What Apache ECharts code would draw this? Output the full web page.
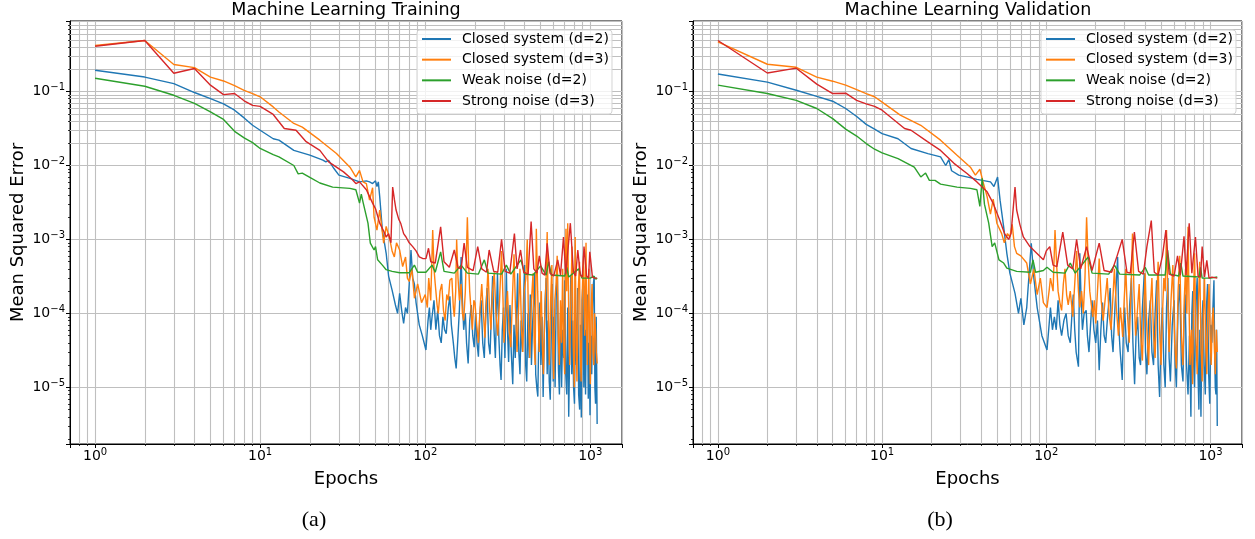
<!DOCTYPE html>
<html>
<head>
<meta charset="utf-8">
<script src="https://cdn.jsdelivr.net/npm/echarts@6/dist/echarts.min.js"></script>
<style>
	html, body { margin: 0; padding: 0; background: #fff; }
	#chart { width: 1255px; height: 539px; }
</style>
</head>
<body>
<div id="chart"></div>
<script>

// Series names and colours (matplotlib tab10)
var seriesNames = ['Closed system (d=2)', 'Closed system (d=3)', 'Weak noise (d=2)', 'Strong noise (d=3)'];
var seriesColors = ['#1f77b4', '#ff7f0e', '#2ca02c', '#d62728'];

var panelTitles = ['Machine Learning Training', 'Machine Learning Validation'];
var panelCaptions = ['(a)', '(b)'];
var xAxisName = 'Epochs';
var yAxisName = 'Mean Squared Error';

// Axis extents, [epoch] and [MSE]
var xRange = [0.705, 1556];
var yRange = [1.714e-6, 0.8995];

// ---- Training panel, [epoch, mse] ----
var trainClosed2 = [[1,0.194],[2,0.157],[3,0.128],[4,0.097],[5,0.080],[6,0.068],[7,0.056],[8,0.044],[9,0.035],[10,0.030],[12,0.023],[13,0.022],[16,0.016],[20,0.0138],[24,0.0118],[25,0.0112],[26,0.0117],[28,0.0091],[30,0.0074],[35,0.0067],[40,0.0060],[44,0.0062],[46,0.0060],[48,0.0057],[49,0.0054],[50,0.0062],[51,0.0052],[52,0.0060],[53,0.0038],[55,0.00134],[58,0.00065],[60,0.00032],[63,0.000206],[66,0.00013],[68,0.0001],[70,0.000187],[72,0.00011],[74,0.000073],[76,0.00012],[78,0.0001],[80,0.00025],[82,0.00072],[84,0.0003],[86,0.00025],[88,0.00014],[92,0.00007],[96,0.00005],
	[101,3.2e-5],[104,8e-5],[106,1.2e-4],[108,6e-5],[110,9e-5],[113,1.5e-4],[116,6e-5],[119,1.1e-4],[122,5e-5],[125,4e-5],[128,9e-5],[131,6e-5],[134,5.3e-5],[138,1.2e-4],[141,1.7e-4],[144,7e-5],[148,4e-5],[151,2.5e-5],[154,1.8e-5],[158,5e-5],[161,1.1e-4],[165,5.8e-4],[168,1.5e-4],[171,6e-5],[175,1e-4],[178,4e-5],[182,2.1e-5],[186,8e-5],[190,1.3e-4],[194,5e-5],[198,3.5e-5],[202,1e-4],[206,4e-5],[210,2.6e-5],[214,9e-5],[218,1.5e-4],[223,4e-5],[228,2.5e-5],[233,1.2e-4],[237,2.2e-4],[242,4e-5],[247,2.8e-5],[252,1.1e-4],[256,3.2e-4],[261,6e-5],[266,2.5e-5],[270,1e-4],[274,3.5e-4],[279,5e-5],[284,2e-5],[288,1.26e-5],[293,6e-5],[298,1.2e-4],[304,2.5e-5],[310,4e-4],[315,6e-5],[320,2.2e-5],[326,1.3e-4],[332,3e-5],[339,1.1e-5],[345,7e-5],[351,2.5e-5],[357,9e-5],[363,3.5e-4],[369,3e-5],[375,1.5e-5],[381,8e-5],[388,3e-5],[394,1.5e-4],[400,4.5e-4],[406,2e-5],[412,1.2e-5],[419,1e-4],[426,2.5e-5],[433,1.8e-4],[440,2e-5],[447,7e-5],[454,1.5e-4],[460,3.5e-4],[467,1.5e-5],[474,1e-5],[481,7.5e-6],[488,6e-5],[495,1.4e-4],[502,2e-5],[510,9e-5],[518,7.4e-6],[526,5e-5],[533,1.5e-4],[540,3e-4],[548,1.5e-5],[556,8e-5],[564,1.2e-5],[572,6.8e-6],[580,5e-5],[588,2.5e-4],[596,1.2e-5],[604,9e-5],[612,1e-5],[622,2e-4],[632,3.5e-4],[641,1.8e-5],[650,8e-6],[660,1e-4],[670,1e-5],[680,6e-5],[690,2.5e-5],[700,2.8e-4],[710,1.5e-5],[720,8e-6],[730,1.2e-4],[740,4e-6],[750,3e-5],[762,3.3e-4],[772,1.5e-5],[782,8e-5],[792,1e-5],[802,6e-6],[812,1e-4],[824,2e-5],[838,2.2e-4],[850,8e-6],[862,5e-6],[872,7e-5],[882,3.9e-6],[892,1.5e-4],[902,2.5e-4],[914,1e-5],[925,6e-5],[936,8e-6],[948,1.3e-4],[960,1.8e-4],[972,7e-6],[984,4e-5],[996,4.2e-6],[1008,5e-5],[1020,1.5e-5],[1032,1e-4],[1044,2.5e-4],[1056,3.2e-4],[1066,1e-5],[1076,6e-6],[1086,9e-5],[1094,1.5e-5],[1100,3.2e-6]];

var trainClosed3 = [[1,0.42],[2,0.49],[3,0.232],[4,0.211],[5,0.157],[6,0.139],[7,0.12],[8,0.104],[9,0.094],[10,0.085],[12,0.062],[13,0.053],[16,0.037],[18,0.033],[23,0.022],[29,0.0145],[35,0.0095],[38,0.007],[40,0.0086],[42,0.006],[44,0.0057],[46,0.0034],[48,0.005],[49,0.002],[51,0.00134],[53,0.0025],[56,0.00089],[58,0.0015],[61,0.001],[63,0.0007],[65,0.00058],[67,0.0009],[70,0.00072],[73,0.00043],[76,0.00058],[78,0.0003],[80,0.00027],[83,0.0004],[86,0.00016],[90,0.00025],[95,0.00014],
	[100,1.8e-4],[103,1.2e-4],[105,3e-4],[108,1.5e-4],[111,1.34e-3],[113,4e-4],[115,2.5e-4],[118,1.3e-4],[120,1e-4],[123,2e-4],[126,2.5e-4],[129,1.1e-4],[132,8e-5],[135,1.8e-4],[138,1.5e-4],[141,2.8e-4],[145,3e-4],[148,1.2e-4],[150,9e-5],[153,2e-4],[155,1e-3],[158,3e-4],[161,1.5e-4],[165,2.5e-4],[168,1e-4],[171,8e-5],[175,2e-4],[180,2e-3],[183,5e-4],[186,2e-4],[190,1e-4],[193,6e-5],[197,1.5e-4],[200,1.4e-4],[205,7e-5],[210,4e-5],[215,1.2e-4],[220,2.5e-4],[225,1e-4],[230,4.7e-5],[235,1.5e-4],[240,4e-4],[245,1.2e-4],[250,6e-5],[256,2e-4],[262,3.6e-4],[268,1e-4],[275,5e-5],[282,1.5e-4],[290,7e-4],[296,1.5e-4],[300,4e-5],[307,1e-4],[315,2e-4],[322,6e-5],[330,3.5e-5],[337,1.5e-4],[345,6.3e-4],[352,1.2e-4],[360,3e-5],[367,1e-4],[375,4e-4],[383,6e-5],[390,3e-5],[398,2e-4],[407,3e-4],[415,1e-3],[422,8e-5],[430,2.5e-5],[440,1.5e-4],[450,3.5e-4],[457,4e-5],[463,2e-5],[471,1.4e-3],[480,2e-4],[490,3e-5],[498,1e-4],[505,2e-4],[512,4e-5],[520,1.5e-5],[530,1e-4],[540,3e-4],[548,1.26e-3],[556,1e-4],[565,2e-5],[575,1.5e-4],[585,4.5e-4],[593,3e-5],[600,1.3e-5],[610,1.5e-4],[620,2.5e-4],[630,6e-4],[640,5e-5],[650,2e-5],[660,1.5e-4],[670,4e-5],[680,4e-4],[690,3e-5],[700,1.5e-5],[706,3e-4],[712,1.4e-3],[720,2e-4],[730,1.66e-3],[740,1e-4],[750,2e-5],[762,1.5e-4],[775,8e-4],[787,4e-5],[800,1e-5],[810,1.08e-3],[820,6e-5],[830,1.2e-5],[845,2e-4],[860,5e-4],[870,3e-5],[880,1.2e-5],[895,2e-4],[910,6e-4],[925,5e-5],[942,9e-4],[950,6e-5],[960,2e-5],[970,1.5e-4],[980,4e-4],[990,4e-5],[1000,1.1e-5],[1012,1.2e-4],[1025,2.5e-4],[1038,3e-5],[1050,2e-5],[1062,1e-4],[1075,6e-5],[1087,3e-5],[1100,2.1e-5]];

var trainWeak2 = [[1,0.151],[2,0.118],[3,0.089],[4,0.069],[5,0.053],[6,0.042],[7,0.029],[8,0.0236],[9,0.0204],[10,0.017],[12,0.014],[13,0.0131],[16,0.010],[17,0.0077],[18,0.0079],[20,0.0069],[23,0.0058],[27.5,0.0051],[35,0.0049],[38,0.0047],[40,0.0031],[41,0.0041],[42,0.0032],[45,0.00166],[46.5,0.00089],[49,0.00072],[50,0.0008],[51.5,0.00053],[55,0.00045],[58,0.00039],[63,0.00037],[70,0.000355],[80,0.000355],[86,0.00045],[90,0.00036],[101,0.00036],[110,0.00045],[115,0.00036],[124,0.00068],[130,0.00037],[150,0.00035],[165,0.00045],[180,0.00035],[210,0.00034],[228,0.00053],[240,0.00035],[290,0.00034],[310,0.00045],[330,0.00034],[380,0.00053],[400,0.00034],[450,0.00033],[500,0.00044],[540,0.00033],[560,0.0005],[580,0.00033],[700,0.00032],[720,0.00042],[740,0.00031],[850,0.0004],[890,0.0003],[1000,0.0003],[1050,0.00032],[1080,0.00029],[1100,0.0003]];

var trainStrong3 = [[1,0.41],[2,0.49],[3,0.177],[4,0.205],[5,0.122],[6,0.091],[7,0.094],[8,0.075],[9,0.065],[10,0.063],[12,0.049],[14,0.0316],[16.5,0.030],[19,0.021],[23,0.016],[26,0.0112],[32,0.0082],[36,0.0065],[38,0.0057],[40,0.006],[44,0.0047],[48,0.0031],[50,0.0026],[53,0.00166],[56,0.0013],[58,0.00108],[60,0.0012],[62,0.0009],[63.5,0.0051],[65,0.0035],[66.6,0.0025],[69,0.0019],[71,0.00166],[74,0.0012],[76.5,0.00108],[80,0.0009],[84,0.0008],[88,0.0007],[92,0.00058],[97,0.00055],[101,0.00055],[104.7,0.00076],[108,0.0005],[115,0.00048],[124,0.00148],[130,0.0005],[140,0.00042],[150,0.00072],[158,0.00042],[165,0.0004],[172,0.00089],[180,0.00042],[195,0.00038],[208,0.0008],[220,0.0004],[235,0.00036],[244,0.00072],[260,0.00037],[275,0.00036],[290,0.001],[305,0.00037],[325,0.00035],[347,0.0012],[360,0.0004],[378,0.00072],[395,0.00036],[420,0.00034],[438,0.00174],[455,0.0004],[475,0.00035],[491,0.0006],[510,0.00035],[530,0.00033],[548,0.00089],[570,0.00035],[600,0.00032],[635,0.00053],[660,0.00033],[688,0.00108],[710,0.00034],[730,0.00032],[757,0.00166],[790,0.00036],[815,0.00032],[840,0.00072],[870,0.00033],[895,0.00031],[916,0.0008],[950,0.00032],[975,0.0003],[993,0.00068],[1030,0.00031],[1060,0.0003],[1100,0.0003]];

// ---- Validation panel, [epoch, mse] ----
var valClosed2 = [[1,0.173],[2,0.134],[3,0.104],[4,0.086],[5,0.074],[6,0.059],[7,0.046],[8,0.036],[9,0.031],[10,0.027],[12.5,0.023],[15,0.017],[19,0.0145],[22.7,0.0131],[24.4,0.010],[25.5,0.012],[26.5,0.0085],[29.3,0.0074],[33.8,0.0069],[37.8,0.0065],[45.7,0.006],[48,0.0052],[50.5,0.007],[52.3,0.0034],[55,0.00148],[57.5,0.00065],[60,0.00035],[64.5,0.000187],[67.7,0.0001],[70,0.00016],[73,0.00007],[76,0.00012],[81,0.00089],[84,0.0003],[88,0.00012],[94,0.00005],
	[101,3.2e-5],[104,7e-5],[106,1.2e-4],[109,6e-5],[112,9e-5],[115,6e-5],[118,1.5e-4],[121,7e-5],[124,5e-5],[128,8e-5],[132,1e-4],[136,5e-5],[140,4e-5],[143,9e-5],[146,1.8e-4],[149,6e-5],[152,3e-5],[157,1.9e-5],[160,6.5e-4],[163,1.5e-4],[166,6e-5],[170,1e-4],[175,1.1e-4],[178,5e-5],[182,3e-5],[186,7e-5],[190,1.5e-4],[195,6e-5],[200,4e-5],[205,8e-5],[210,1.7e-5],[215,6e-5],[220,1.4e-4],[225,5e-5],[230,4e-5],[237,1e-4],[245,2.2e-4],[250,5e-5],[255,3e-5],[262,1.2e-4],[272,5.8e-4],[277,6e-5],[282,3e-5],[286,2e-5],[290,1.26e-5],[295,6e-5],[300,1.2e-4],[307,4e-5],[315,3e-5],[322,1.3e-4],[330,3e-4],[337,4e-5],[345,1.1e-5],[352,5e-5],[360,9e-5],[368,2.5e-5],[375,2e-5],[385,1.2e-4],[395,3.5e-4],[402,3e-5],[410,1.5e-5],[420,8e-5],[430,1.5e-4],[440,3e-5],[450,2e-5],[460,1e-4],[470,2.8e-4],[480,2e-5],[490,7.4e-6],[500,5e-5],[510,1.2e-4],[520,2e-5],[530,1e-5],[540,1.2e-4],[550,3e-4],[560,2.5e-5],[570,1.2e-5],[585,7e-5],[600,1.5e-4],[610,2e-5],[620,1e-5],[635,1.2e-4],[650,2.5e-4],[665,2e-5],[680,1.2e-5],[690,8e-5],[700,1.8e-4],[715,2e-5],[730,8e-6],[745,5e-5],[760,4e-6],[770,1e-4],[780,2e-4],[790,2e-5],[800,1e-5],[815,1.5e-4],[830,3e-4],[840,1.5e-5],[850,5e-6],[862,6e-5],[875,4e-6],[888,8e-5],[900,1.5e-4],[915,2e-5],[930,8e-6],[945,1.2e-4],[960,2.5e-4],[975,1.5e-5],[990,6e-6],[1005,7e-5],[1020,4e-5],[1035,1.2e-4],[1050,2.8e-4],[1060,3e-5],[1070,1e-5],[1080,8e-6],[1090,6e-5],[1100,3e-6]];

var valClosed3 = [[1,0.47],[2,0.234],[3,0.213],[4,0.157],[5,0.138],[6,0.122],[7,0.106],[8,0.094],[9,0.085],[10,0.072],[12.9,0.048],[17.2,0.035],[22.7,0.022],[28.6,0.0138],[34.5,0.0095],[37,0.0074],[39.4,0.0089],[41.2,0.006],[43.6,0.0038],[45.7,0.0022],[47.5,0.0035],[50,0.00166],[53.5,0.0012],[55.5,0.0009],[58,0.0012],[60,0.00108],[62,0.0016],[64,0.0008],[66,0.00065],[70,0.0006],[76,0.00048],[80,0.00025],[84,0.0004],[88,0.00018],[92,0.0003],[96,0.00014],
	[101,1.2e-4],[104,2e-4],[106,3e-4],[110,2e-4],[113,1.34e-3],[116,4e-4],[118,2e-4],[121,1.4e-4],[124,1.1e-4],[127,2.5e-4],[130,4e-4],[133,1.8e-4],[136,1.3e-4],[140,2e-4],[145,9e-5],[149,2.5e-4],[153,7e-4],[157,2e-4],[160,1.2e-4],[164,2e-4],[168,1e-4],[172,3e-4],[176,2e-3],[180,5e-4],[184,2e-4],[188,1.3e-4],[192,9e-5],[196,1.5e-4],[200,7.3e-5],[205,2e-4],[210,5.5e-4],[216,1.5e-4],[222,8e-5],[228,1.5e-4],[235,3e-4],[241,1e-4],[248,6e-5],[254,1.5e-4],[260,4e-4],[267,1.2e-4],[275,5e-5],[283,1.2e-4],[292,4.8e-5],[298,1.5e-4],[305,4e-4],[312,1e-4],[320,4e-5],[328,2e-4],[335,1.2e-3],[342,2e-4],[350,5e-5],[358,1e-4],[368,2.5e-4],[376,5e-5],[385,2.3e-5],[392,1e-4],[400,3.5e-4],[410,6e-5],[420,2e-5],[430,1.2e-4],[440,3e-4],[450,5e-5],[460,2.5e-5],[470,1.5e-4],[480,5e-4],[490,6e-5],[500,2e-5],[510,1e-4],[520,3e-4],[530,2e-4],[540,1.34e-3],[550,1.5e-4],[560,3e-5],[575,1.5e-4],[590,4.5e-4],[605,4e-5],[620,1.8e-5],[635,2e-4],[650,6e-4],[665,5e-5],[680,2e-5],[692,1.5e-4],[705,4e-4],[718,1e-4],[730,1.48e-3],[740,1.5e-4],[750,2e-5],[765,6e-5],[778,1.1e-5],[790,2e-4],[800,6.5e-4],[815,5e-5],[830,1.5e-5],[845,1.5e-4],[860,5e-4],[875,4e-5],[890,1.2e-5],[905,1e-4],[920,3e-4],[935,4e-5],[950,1.5e-5],[965,1e-4],[980,2.5e-4],[995,5e-5],[1010,2e-5],[1025,8e-5],[1040,1.2e-4],[1055,4e-5],[1070,1.5e-5],[1085,6e-5],[1100,3e-5]];

var valWeak2 = [[1,0.122],[2,0.094],[3,0.076],[4,0.059],[5,0.043],[6,0.031],[7,0.025],[8,0.0198],[9,0.0166],[10,0.0148],[12.5,0.0124],[15.7,0.0095],[17.2,0.007],[18.4,0.0079],[19.4,0.0063],[21,0.0063],[22.7,0.0056],[28.6,0.0051],[34.5,0.0049],[37.8,0.0047],[39.4,0.0028],[40.7,0.0067],[42,0.003],[44.6,0.00166],[46.8,0.0008],[48.5,0.0009],[51.5,0.00053],[55,0.00048],[57.5,0.00041],[66,0.00037],[80,0.00036],[83,0.00053],[86,0.00036],[96,0.00038],[101,0.00042],[110,0.00036],[130,0.00035],[140,0.00048],[150,0.00035],[180,0.00058],[190,0.00035],[240,0.00034],[260,0.00045],[280,0.00034],[370,0.00033],[400,0.00042],[420,0.00033],[530,0.00033],[548,0.00072],[570,0.00034],[640,0.00032],[660,0.00048],[680,0.00032],[850,0.00031],[870,0.00042],[890,0.0003],[1000,0.0003],[1100,0.00031]];

var valStrong3 = [[1,0.49],[2,0.178],[3,0.207],[4,0.126],[5,0.094],[6,0.095],[7,0.076],[8,0.068],[9,0.063],[10,0.056],[13.7,0.0316],[15,0.030],[18.9,0.021],[22.7,0.016],[27.4,0.0107],[32.9,0.0078],[37.8,0.006],[43.6,0.0044],[47.4,0.0031],[52,0.00183],[55.7,0.0012],[59,0.001],[61,0.0012],[64.5,0.0051],[66,0.0025],[69,0.0016],[72.5,0.00108],[79.5,0.0008],[87.5,0.00065],[96,0.00053],[100,0.0007],[105,0.0008],[110,0.00045],[116,0.00043],[126,0.00126],[135,0.00045],[145,0.0004],[153,0.001],[162,0.0004],[176,0.0008],[190,0.00038],[210,0.00089],[225,0.00038],[250,0.00036],[270,0.0006],[290,0.001],[310,0.00036],[325,0.00035],[344,0.00126],[365,0.00037],[390,0.00034],[410,0.0008],[436,0.0018],[455,0.00036],[480,0.00033],[510,0.0006],[535,0.00134],[560,0.00034],[600,0.00032],[630,0.0006],[655,0.00033],[690,0.0011],[710,0.00033],[742,0.00166],[770,0.00035],[810,0.00108],[840,0.00032],[870,0.00031],[890,0.0008],[920,0.00031],[950,0.00052],[980,0.0003],[1020,0.00031],[1100,0.0003]];

var panelData = [
	[trainClosed2, trainClosed3, trainWeak2, trainStrong3],
	[valClosed2, valClosed3, valWeak2, valStrong3]
];

// Layout of the two panels, in pixels
var panelBoxes = [
	{ left: 70, top: 21, width: 552, height: 423, legendLeft: 417, center: 346, caption: 314 },
	{ left: 693, top: 21, width: 549, height: 423, legendLeft: 1041, center: 968, caption: 940 }
];

var FONT = 'DejaVu Sans';
var GRID_COLOR = '#bfbfbf';

// Matplotlib-like "10^k" label; other values (axis ends) get no label
function powerLabel(v) {
	var lg = Math.log10(v);
	var e = Math.round(lg);
	if (Math.abs(lg - e) > 1e-6) {
		return '';
	}
	var exp = e < 0 ? '\u2212' + (-e) : '' + e;
	return '{b|10}{s|' + exp + '}';
}

var labelRich = {
	b: { fontFamily: FONT, fontSize: 14, color: '#000', lineHeight: 16 },
	s: { fontFamily: FONT, fontSize: 10, color: '#000', lineHeight: 10, padding: [0, 0, 8, 0] }
};

// Minor positions 2..9 x 10^k inside the range
function minorValues(lo, hi) {
	var out = [];
	for (var e = Math.floor(Math.log10(lo)); e <= Math.ceil(Math.log10(hi)); e++) {
		for (var m = 2; m <= 9; m++) {
			var v = m * Math.pow(10, e);
			if (v > lo && v < hi) out.push(v);
		}
	}
	return out;
}

function minorGridSeries(idx) {
	var lines = [];
	minorValues(xRange[0], xRange[1]).forEach(function (v) { lines.push({ xAxis: v }); });
	minorValues(yRange[0], yRange[1]).forEach(function (v) { lines.push({ yAxis: v }); });
	return {
		type: 'line',
		xAxisIndex: idx,
		yAxisIndex: idx,
		data: [],
		silent: true,
		z: 1,
		markLine: {
			silent: true,
			z: 1,
			symbol: ['none', 'none'],
			label: { show: false },
			animation: false,
			lineStyle: { type: 'solid', color: GRID_COLOR, width: 1.1 },
			emphasis: { disabled: true },
			data: lines
		}
	};
}

// Extra axis carrying only the short minor ticks
function minorTickAxis(p, range, position) {
	return {
		type: 'log', gridIndex: p, min: range[0], max: range[1], logBase: 10,
		position: position, offset: 0,
		axisLine: { show: false },
		axisLabel: { show: false },
		splitLine: { show: false },
		axisTick: { show: true, inside: false, length: 2, customValues: minorValues(range[0], range[1]),
			lineStyle: { color: '#000', width: 0.8 } }
	};
}

function buildOption() {
	var grids = [], xAxes = [], yAxes = [], series = [], legends = [], titles = [];

	panelBoxes.forEach(function (box, p) {
		grids.push({
			left: box.left, top: box.top, width: box.width, height: box.height,
			show: true, borderColor: '#000', borderWidth: 1, backgroundColor: 'transparent'
		});

		xAxes.push({
			type: 'log', gridIndex: p, min: xRange[0], max: xRange[1], logBase: 10, position: 'bottom',
			name: xAxisName, nameLocation: 'middle', nameGap: 23,
			nameTextStyle: { fontFamily: FONT, fontSize: 18, color: '#000' },
			axisLine: { show: true, lineStyle: { color: '#000', width: 1 } },
			axisTick: { show: true, inside: false, length: 4, lineStyle: { color: '#000' } },
			axisLabel: { margin: 4, formatter: powerLabel, rich: labelRich },
			splitLine: { show: true, lineStyle: { color: GRID_COLOR, width: 1.1 } }
		});

		yAxes.push({
			type: 'log', gridIndex: p, min: yRange[0], max: yRange[1], logBase: 10, position: 'left',
			name: yAxisName, nameLocation: 'middle', nameGap: 43, nameRotate: 90,
			nameTextStyle: { fontFamily: FONT, fontSize: 18, color: '#000' },
			axisLine: { show: true, lineStyle: { color: '#000', width: 1 } },
			axisTick: { show: true, inside: false, length: 4, lineStyle: { color: '#000' } },
			axisLabel: { margin: 5, formatter: powerLabel, rich: labelRich },
			splitLine: { show: true, lineStyle: { color: GRID_COLOR, width: 1.1 } }
		});

		series.push(minorGridSeries(p));

		// later series drawn on top, as in the original plot order
		panelData[p].forEach(function (data, k) {
			series.push({
				name: seriesNames[k],
				type: 'line',
				xAxisIndex: p,
				yAxisIndex: p,
				data: data,
				symbol: 'none',
				showSymbol: false,
				z: 2,
				lineStyle: { color: seriesColors[k], width: 1.4 },
				itemStyle: { color: seriesColors[k] },
				emphasis: { disabled: true },
				animation: false
			});
		});

		legends.push({
			data: seriesNames,
			orient: 'vertical',
			left: box.legendLeft,
			top: 30,
			z: 10,
			icon: 'rect',
			itemWidth: 29,
			itemHeight: 2,
			itemGap: 4.67,
			padding: [1, 3, 5, 5],
			backgroundColor: 'rgba(255,255,255,0.8)',
			borderColor: '#d4d4d4',
			borderWidth: 1,
			borderRadius: 3,
			selectedMode: false,
			textStyle: { fontFamily: FONT, fontSize: 14, color: '#000', lineHeight: 16, padding: [0, 0, 0, 6] }
		});

		titles.push({
			text: panelTitles[p], left: box.center, top: 1, textAlign: 'center', padding: 0,
			textStyle: { fontFamily: FONT, fontSize: 17.5, fontWeight: 'normal', color: '#000', lineHeight: 18 }
		});
		titles.push({
			text: panelCaptions[p], left: box.caption, top: 509, textAlign: 'center', padding: 0,
			textStyle: { fontFamily: 'Liberation Serif', fontSize: 22, fontWeight: 'normal', color: '#000', lineHeight: 22 }
		});
	});

	// minor-tick axes come after the two main axes so indices 0/1 stay the data axes
	panelBoxes.forEach(function (box, p) {
		xAxes.push(minorTickAxis(p, xRange, 'bottom'));
		yAxes.push(minorTickAxis(p, yRange, 'left'));
	});

	return {
		backgroundColor: '#fff',
		animation: false,
		title: titles,
		legend: legends,
		grid: grids,
		xAxis: xAxes,
		yAxis: yAxes,
		series: series
	};
}

var chart = echarts.init(document.getElementById('chart'), null, { renderer: 'canvas' });
chart.setOption(buildOption());

</script>
</body>
</html>
